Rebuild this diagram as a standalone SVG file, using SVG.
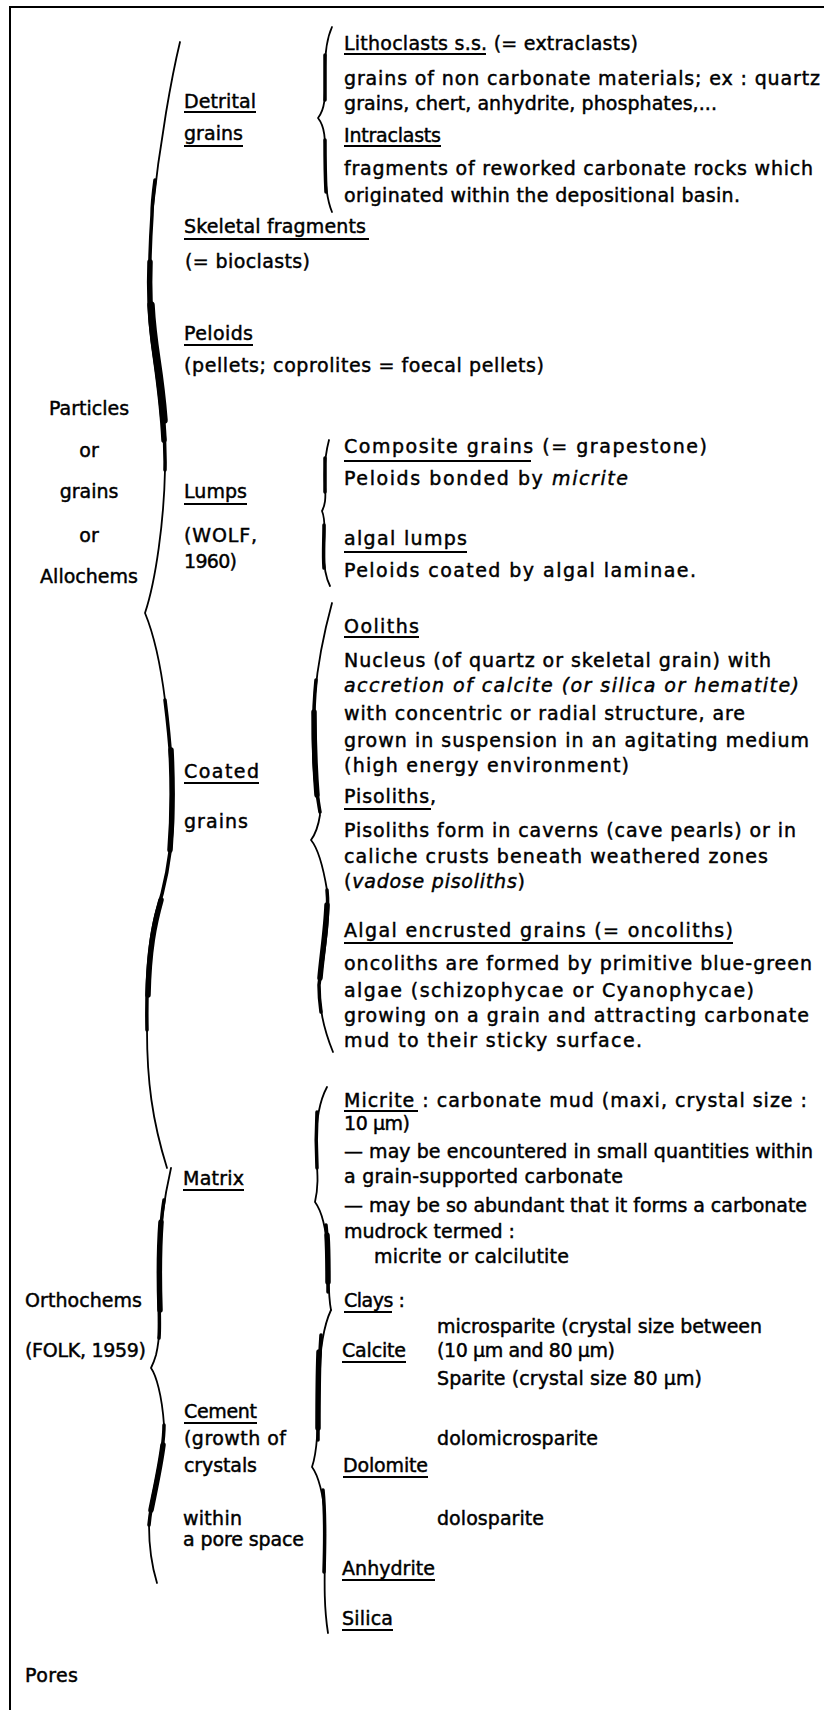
<svg xmlns="http://www.w3.org/2000/svg" width="824" height="1710" viewBox="0 0 824 1710">
<style>
.t{font-family:"DejaVu Sans","Liberation Sans",sans-serif;font-size:19px;fill:#000;stroke:#000;stroke-width:0.45}
.m{text-anchor:middle}
.i{font-style:italic}
.u{stroke:#000;stroke-width:1.8}
.b{fill:none;stroke:#000;stroke-width:1.8;stroke-linecap:round;stroke-linejoin:round}
.k1{fill:none;stroke:#000;stroke-width:3.5;stroke-linecap:round}
.k2{fill:none;stroke:#000;stroke-width:5.5;stroke-linecap:round}
.k3{fill:none;stroke:#000;stroke-width:7.5;stroke-linecap:round}
.f{stroke:#000;stroke-width:2;fill:none}
</style>
<rect width="824" height="1710" fill="#fff"/>
<g id="frame">
<path class="f" d="M824,7 L10,7 L10,1710"/>
</g>
<g id="connectors">
<!-- Allochems brace -->
<path class="b" d="M180,42 C172,75 160,140 152,215 C149,260 148,300 153,340 C158,380 166,420 165,470 C164,520 156,580 145,613 C152,630 160,660 165,700 C170,740 174,790 172,830 C170,865 164,890 156,915 C150,940 146,980 147,1030 C147,1080 152,1120 167,1168"/>
<path class="k1" d="M155,180 C153,195 152,205 152,215 C149,260 148,300 153,340 C158,380 166,420 165,470"/>
<path class="k2" d="M150,262 C149,290 150,315 153,340 C157,370 162,400 164,440"/>
<path class="k3" d="M151,305 C152,325 154,340 157,360 C160,380 162,395 164,420"/>
<path class="k1" d="M165,700 C170,740 174,790 172,830 C170,865 164,890 156,915 C150,940 146,980 147,1030"/>
<path class="k2" d="M171,750 C173,790 172,825 170,850"/>
<path class="k2" d="M161,900 C154,925 149,950 148,995"/>
<!-- Orthochems brace -->
<path class="b" d="M171,1168 C166,1190 160,1220 159,1260 C159,1300 162,1330 156,1355 C154,1362 152,1366 151,1368 C156,1375 162,1395 164,1425 C164,1460 152,1490 149,1525 C149,1550 153,1570 157,1583"/>
<path class="k1" d="M164,1200 C160,1225 159,1260 159,1290 C159,1310 160,1325 159,1338"/>
<path class="k2" d="M161,1222 C159,1250 159,1280 160,1310"/>
<path class="k1" d="M164,1425 C164,1460 152,1490 149,1525"/>
<path class="k2" d="M163,1445 C160,1468 155,1490 151,1510"/>
<!-- Detrital brace -->
<path class="b" d="M332,27 C327,38 325,52 325,70 C325,95 326,108 318,118 C326,128 325,142 325,162 C325,185 327,200 332,212"/>
<path class="k1" d="M325,55 C325,75 325,90 325,100"/>
<path class="k1" d="M325,140 C325,155 325,172 326,192"/>
<!-- Lumps brace -->
<path class="b" d="M329,440 C325,455 324,470 325,485 C326,500 325,505 322,511 C325,518 325,530 324,545 C323,565 326,578 330,586"/>
<path class="k1" d="M325,458 L325,492"/>
<path class="k1" d="M324,525 C324,540 323,555 324,568"/>
<!-- Coated brace -->
<path class="b" d="M332,603 C326,625 318,660 315,695 C313,730 316,780 320,815 C318,828 314,836 311,840 C316,846 322,860 327,890 C330,920 322,960 319,985 C319,1010 324,1030 333,1052"/>
<path class="k1" d="M316,680 C314,700 313,730 314,760 C315,785 318,800 320,812"/>
<path class="k2" d="M314,712 C314,740 315,770 317,795"/>
<path class="k1" d="M327,890 C330,920 322,960 319,985 C319,995 320,1005 321,1012"/>
<path class="k2" d="M327,905 C326,930 322,955 320,978"/>
<!-- Matrix brace -->
<path class="b" d="M327,1087 C320,1100 316,1120 316,1145 C316,1165 320,1180 315,1202 C321,1210 326,1225 328,1255 C329,1280 328,1295 331,1310"/>
<path class="k1" d="M317,1112 C316,1130 316,1150 317,1168"/>
<path class="k1" d="M326,1225 C328,1245 328,1265 328,1292"/>
<path class="k2" d="M327,1235 C328,1250 328,1265 328,1282"/>
<!-- Cement brace -->
<path class="b" d="M331,1310 C324,1325 320,1345 319,1380 C318,1420 318,1450 312,1467 C318,1475 324,1495 325,1520 C326,1560 322,1595 328,1633"/>
<path class="k1" d="M321,1335 C319,1365 318,1400 318,1440"/>
<path class="k2" d="M319,1352 C318,1380 318,1405 318,1428"/>
<path class="k1" d="M323,1490 C325,1510 325,1540 324,1572"/>
</g>
<g id="allochems">
<text class="t m" x="89" y="415">Particles</text>
<text class="t m" x="89" y="457">or</text>
<text class="t m" x="89" y="498">grains</text>
<text class="t m" x="89" y="542">or</text>
<text class="t m" x="89" y="583">Allochems</text>
</g>
<g id="detrital">
<text class="t" x="184" y="108" textLength="72">Detrital</text>
<line class="u" x1="184" y1="112" x2="256" y2="112"/>
<text class="t" x="184" y="140" textLength="59">grains</text>
<line class="u" x1="184" y1="146" x2="243" y2="146"/>
</g>
<g id="lithoclasts">
<text class="t" x="344" y="50" textLength="294">Lithoclasts s.s. (= extraclasts)</text>
<line class="u" x1="344" y1="54" x2="486" y2="54"/>
<text class="t" x="344" y="85" textLength="476">grains of non carbonate materials; ex : quartz</text>
<text class="t" x="344" y="110" textLength="373">grains, chert, anhydrite, phosphates,...</text>
</g>
<g id="intraclasts">
<text class="t" x="344" y="142" textLength="97">Intraclasts</text>
<line class="u" x1="344" y1="146" x2="441" y2="146"/>
<text class="t" x="344" y="175" textLength="469">fragments of reworked carbonate rocks which</text>
<text class="t" x="344" y="202" textLength="396">originated within the depositional basin.</text>
</g>
<g id="skeletal">
<text class="t" x="184" y="233" textLength="182">Skeletal fragments</text>
<line class="u" x1="184" y1="239" x2="369" y2="239"/>
<text class="t" x="185" y="268" textLength="125">(= bioclasts)</text>
</g>
<g id="peloids">
<text class="t" x="184" y="340" textLength="69">Peloids</text>
<line class="u" x1="184" y1="345" x2="253" y2="345"/>
<text class="t" x="184" y="372" textLength="360">(pellets; coprolites = foecal pellets)</text>
</g>
<g id="lumps">
<text class="t" x="184" y="498" textLength="63">Lumps</text>
<line class="u" x1="184" y1="504" x2="247" y2="504"/>
<text class="t" x="184" y="542" textLength="73">(WOLF,</text>
<text class="t" x="184" y="568" textLength="53">1960)</text>
</g>
<g id="composite">
<text class="t" x="344" y="453" textLength="363">Composite grains (= grapestone)</text>
<line class="u" x1="344" y1="461" x2="531" y2="461"/>
<text class="t" x="344" y="485" textLength="284">Peloids bonded by <tspan class="i">micrite</tspan></text>
</g>
<g id="algal-lumps">
<text class="t" x="344" y="545" textLength="123">algal lumps</text>
<line class="u" x1="344" y1="552" x2="467" y2="552"/>
<text class="t" x="344" y="577" textLength="352">Peloids coated by algal laminae.</text>
</g>
<g id="coated">
<text class="t" x="184" y="778" textLength="75">Coated</text>
<line class="u" x1="184" y1="783" x2="259" y2="783"/>
<text class="t" x="184" y="828" textLength="64">grains</text>
</g>
<g id="ooliths">
<text class="t" x="344" y="633" textLength="75">Ooliths</text>
<line class="u" x1="344" y1="637" x2="419" y2="637"/>
<text class="t" x="344" y="667" textLength="427">Nucleus (of quartz or skeletal grain) with</text>
<text class="t i" x="344" y="692" textLength="455">accretion of calcite (or silica or hematite)</text>
<text class="t" x="344" y="720" textLength="401">with concentric or radial structure, are</text>
<text class="t" x="344" y="747" textLength="465">grown in suspension in an agitating medium</text>
<text class="t" x="344" y="772" textLength="285">(high energy environment)</text>
</g>
<g id="pisoliths">
<text class="t" x="344" y="803" textLength="92">Pisoliths,</text>
<line class="u" x1="344" y1="809" x2="431" y2="809"/>
<text class="t" x="344" y="837" textLength="452">Pisoliths form in caverns (cave pearls) or in</text>
<text class="t" x="344" y="863" textLength="424">caliche crusts beneath weathered zones</text>
<text class="t" x="344" y="888" textLength="181">(<tspan class="i">vadose pisoliths</tspan>)</text>
</g>
<g id="oncoliths">
<text class="t" x="344" y="937" textLength="389">Algal encrusted grains (= oncoliths)</text>
<line class="u" x1="344" y1="943" x2="733" y2="943"/>
<text class="t" x="344" y="970" textLength="468">oncoliths are formed by primitive blue-green</text>
<text class="t" x="344" y="997" textLength="410">algae (schizophycae or Cyanophycae)</text>
<text class="t" x="344" y="1022" textLength="465">growing on a grain and attracting carbonate</text>
<text class="t" x="344" y="1047" textLength="298">mud to their sticky surface.</text>
</g>
<g id="orthochems">
<text class="t" x="25" y="1307" textLength="117">Orthochems</text>
<text class="t" x="25" y="1357" textLength="121">(FOLK, 1959)</text>
</g>
<g id="matrix">
<text class="t" x="183" y="1185" textLength="61">Matrix</text>
<line class="u" x1="183" y1="1190" x2="244" y2="1190"/>
</g>
<g id="micrite">
<text class="t" x="344" y="1107" textLength="463">Micrite : carbonate mud (maxi, crystal size :</text>
<line class="u" x1="344" y1="1111" x2="418" y2="1111"/>
<text class="t" x="344" y="1130" textLength="66">10 µm)</text>
<text class="t" x="344" y="1158" textLength="469">— may be encountered in small quantities within</text>
<text class="t" x="344" y="1183" textLength="279">a grain-supported carbonate</text>
<text class="t" x="344" y="1212" textLength="463">— may be so abundant that it forms a carbonate</text>
<text class="t" x="344" y="1238" textLength="171">mudrock termed :</text>
<text class="t" x="374" y="1263" textLength="195">micrite or calcilutite</text>
</g>
<g id="clays">
<text class="t" x="344" y="1307" textLength="61">Clays :</text>
<line class="u" x1="344" y1="1312" x2="392" y2="1312"/>
</g>
<g id="cement">
<text class="t" x="184" y="1418" textLength="73">Cement</text>
<line class="u" x1="184" y1="1423" x2="257" y2="1423"/>
<text class="t" x="184" y="1445" textLength="102">(growth of</text>
<text class="t" x="184" y="1472" textLength="73">crystals</text>
<text class="t" x="183" y="1525" textLength="59">within</text>
<text class="t" x="183" y="1546" textLength="121">a pore space</text>
</g>
<g id="calcite">
<text class="t" x="342" y="1357" textLength="64">Calcite</text>
<line class="u" x1="342" y1="1362" x2="406" y2="1362"/>
<text class="t" x="437" y="1333" textLength="325">microsparite (crystal size between</text>
<text class="t" x="437" y="1357" textLength="178">(10 µm and 80 µm)</text>
<text class="t" x="437" y="1385" textLength="265">Sparite (crystal size 80 µm)</text>
</g>
<g id="dolomite">
<text class="t" x="343" y="1472" textLength="85">Dolomite</text>
<line class="u" x1="343" y1="1477" x2="428" y2="1477"/>
<text class="t" x="437" y="1445" textLength="161">dolomicrosparite</text>
<text class="t" x="437" y="1525" textLength="107">dolosparite</text>
</g>
<g id="anhydrite">
<text class="t" x="342" y="1575" textLength="93">Anhydrite</text>
<line class="u" x1="342" y1="1580" x2="435" y2="1580"/>
</g>
<g id="silica">
<text class="t" x="342" y="1625" textLength="51">Silica</text>
<line class="u" x1="342" y1="1630" x2="393" y2="1630"/>
</g>
<g id="pores">
<text class="t" x="25" y="1682" textLength="53">Pores</text>
</g>
</svg>
